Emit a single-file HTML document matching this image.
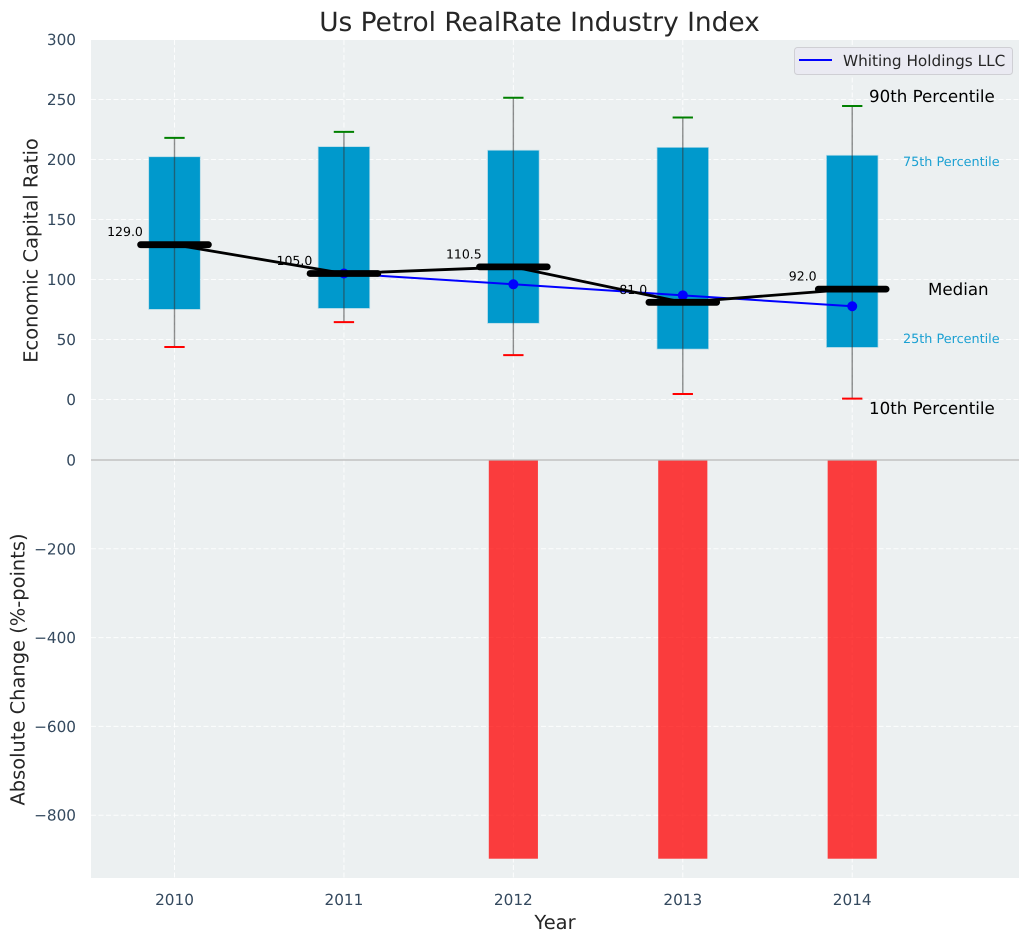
<!DOCTYPE html>
<html lang="en">
<head>
<meta charset="utf-8">
<title>Us Petrol RealRate Industry Index</title>
<style>
  html, body { margin: 0; padding: 0; background: #ffffff; }
  svg { display: block; font-family: "DejaVu Sans", "Liberation Sans", sans-serif; text-rendering: geometricPrecision; }
</style>
</head>
<body>
<svg id="chart" xmlns="http://www.w3.org/2000/svg" width="1029" height="942" viewBox="0 0 1029 942">
  <rect x="91" y="40" width="928" height="420" fill="#ecf0f1"/>
  <rect x="91" y="460" width="928" height="418" fill="#ecf0f1"/>
  <g id="grid"></g>
  <g id="marks"></g>
  <line x1="91" x2="1019" y1="460" y2="460" stroke="#b8b8b8" stroke-width="1.2"/>
  <g id="ticks" font-size="15.28" fill="#34495e"></g>

  <text x="539.5" y="31" text-anchor="middle" font-size="26.4" fill="#262626">Us Petrol RealRate Industry Index</text>
  <text transform="translate(37.5,250.5) rotate(-90)" text-anchor="middle" font-size="19.45" fill="#262626">Economic Capital Ratio</text>
  <text transform="translate(24.5,669.5) rotate(-90)" text-anchor="middle" font-size="19.45" fill="#262626">Absolute Change (%-points)</text>
  <text x="555" y="929" text-anchor="middle" font-size="19.45" fill="#262626">Year</text>

  <text x="869" y="102" font-size="16.67" fill="#000000">90th Percentile</text>
  <text x="903" y="166" font-size="12.8" fill="#1ba0d2">75th Percentile</text>
  <text x="928" y="295" font-size="16.67" fill="#000000">Median</text>
  <text x="903" y="343" font-size="12.8" fill="#1ba0d2">25th Percentile</text>
  <text x="869" y="414" font-size="16.67" fill="#000000">10th Percentile</text>

  <g>
    <rect x="794.5" y="47.5" width="218" height="27" rx="3" fill="#eaeaf2" stroke="#cfcfd4" stroke-width="1"/>
    <line x1="799" x2="832" y1="60" y2="60" stroke="#0000ff" stroke-width="2"/>
    <text x="843" y="66" font-size="15.28" fill="#262626">Whiting Holdings LLC</text>
  </g>
</svg>
<script>
const years = [2010, 2011, 2012, 2013, 2014];
const p90 = [218, 223, 251.5, 235, 244.6];
const p75 = [202, 210.4, 207.4, 209.8, 203.2];
const medians = [129, 105, 110.5, 81, 92];
const p25 = [75.4, 76.2, 63.8, 42.3, 43.7];
const p10 = [43.7, 64.5, 37, 4.6, 0.7];
const whiting = [null, 105, 96, 86.8, 77.7];
const absoluteChange = [null, null, -898, -898, -898];
const medianLabels = ["129.0", "105.0", "110.5", "81.0", "92.0"];
const topTicks = [0, 50, 100, 150, 200, 250, 300];
const bottomTicks = [0, -200, -400, -600, -800];

const NS = 'http://www.w3.org/2000/svg';
const xScale = year => 174.5 + (year - 2010) * 169.43;
const xUnits = width => width * 169.43;
const yTop = value => 399.5 - value * 1.2;
const yBottom = value => 460 - value * 0.444;

function make(tag, attrs, parent) {
  const el = document.createElementNS(NS, tag);
  for (const key in attrs) el.setAttribute(key, attrs[key]);
  parent.appendChild(el);
  return el;
}

const grid = document.getElementById('grid');
const marks = document.getElementById('marks');
const ticks = document.getElementById('ticks');
const gridStyle = { stroke: '#ffffff', 'stroke-width': 1, 'stroke-dasharray': '5 2.5', 'stroke-opacity': 0.85 };

topTicks.forEach(t => {
  const y = yTop(t);
  const line = make('line', Object.assign({ x1: 91, x2: 1019, y1: y, y2: y }, gridStyle), grid);
  
  
  const label = make('text', { x: 76, y: y + 5.5, 'text-anchor': 'end' }, ticks);
  label.textContent = String(t);
  
  
});

bottomTicks.forEach(t => {
  const y = yBottom(t);
  if (t !== 0) {
    const line = make('line', Object.assign({ x1: 91, x2: 1019, y1: y, y2: y }, gridStyle), grid);
    
    
  }
  const label = make('text', { x: 76, y: y + 5.5, 'text-anchor': 'end' }, ticks);
  label.textContent = String(t).replace('-', '\u2212');
  
  
});

years.forEach(year => {
  const x = xScale(year);
  const line = make('line', Object.assign({ x1: x, x2: x, y1: 40, y2: 878 }, gridStyle), grid);
  
  
  const label = make('text', { x: x, y: 905, 'text-anchor': 'middle' }, ticks);
  label.textContent = String(year);
  
  
});

years.forEach((year, i) => {
  const x = xScale(year);
  const half = xUnits(0.3) / 2;
  const box = make('rect', {
    x: x - half, y: yTop(p75[i]), width: half * 2, height: yTop(p25[i]) - yTop(p75[i]),
    fill: '#0099cc', stroke: '#0099cc', 'stroke-opacity': 0.25, 'stroke-width': 1.5
  }, marks);
  
  

  const whisker = make('line', {
    x1: x, x2: x, y1: yTop(p90[i]), y2: yTop(p10[i]),
    stroke: '#333333', 'stroke-opacity': 0.55, 'stroke-width': 1.4
  }, marks);
  
  

  const capHalf = xUnits(0.12) / 2;
  const capHigh = make('line', {
    x1: x - capHalf, x2: x + capHalf, y1: yTop(p90[i]), y2: yTop(p90[i]),
    stroke: '#008000', 'stroke-width': 2
  }, marks);
  
  

  const capLow = make('line', {
    x1: x - capHalf, x2: x + capHalf, y1: yTop(p10[i]), y2: yTop(p10[i]),
    stroke: '#ff0000', 'stroke-width': 2
  }, marks);
  
  

  if (absoluteChange[i] !== null) {
    const barHalf = xUnits(0.29) / 2;
    const bar = make('rect', {
      x: x - barHalf, y: yBottom(0), width: barHalf * 2,
      height: yBottom(absoluteChange[i]) - yBottom(0),
      fill: '#ff0000', 'fill-opacity': 0.75
    }, marks);
    
    
  }
});

const whitingPoints = years
  .map((year, i) => whiting[i] === null ? null : xScale(year) + ',' + yTop(whiting[i]))
  .filter(Boolean).join(' ');
const whitingLine = make('polyline', { points: whitingPoints, fill: 'none', stroke: '#0000ff', 'stroke-width': 2 }, marks);



years.forEach((year, i) => {
  if (whiting[i] === null) return;
  const dot = make('circle', { cx: xScale(year), cy: yTop(whiting[i]), r: 5, fill: '#0000ff' }, marks);
  
  
});

const medianPoints = years.map((year, i) => xScale(year) + ',' + yTop(medians[i])).join(' ');
const medianLine = make('polyline', { points: medianPoints, fill: 'none', stroke: '#000000', 'stroke-width': 2.8 }, marks);



years.forEach((year, i) => {
  const x = xScale(year);
  const half = xUnits(0.4) / 2;
  const y = yTop(medians[i]);
  const bar = make('line', {
    x1: x - half, x2: x + half, y1: y, y2: y,
    stroke: '#000000', 'stroke-width': 6.8, 'stroke-linecap': 'round'
  }, marks);
  
  

  const label = make('text', { x: x - 49.5, y: y - 8.5, 'text-anchor': 'middle', 'font-size': 12.5, fill: '#000000' }, marks);
  label.textContent = medianLabels[i];
  
  
});
</script>
</body>
</html>
